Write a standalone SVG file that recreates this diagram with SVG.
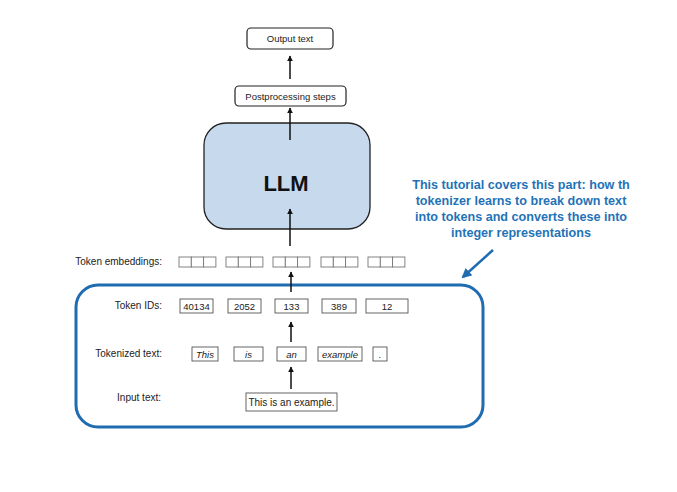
<svg xmlns="http://www.w3.org/2000/svg" width="677" height="492" viewBox="0 0 677 492">
<style>
  text { font-family: "Liberation Sans", Arial, sans-serif; fill: #222; }
  .lbl { font-size: 9.5px; }
  .lblr { font-size: 10px; text-anchor: end; }
  .c { text-anchor: middle; }
  .rbox { fill: #fff; stroke: #222; stroke-width: 1.2; }
  .cell { fill: #fff; stroke: #777; stroke-width: 0.9; }
  .tok { fill: #fff; stroke: #555; stroke-width: 0.9; }
  .it { font-style: italic; }
  .arrow { stroke: #111; stroke-width: 1.5; fill: none; marker-end: url(#ah); }
  .note { font-size: 12.6px; font-weight: bold; fill: #1f73b7; text-anchor: middle; }
</style>
<defs>
  <marker id="ah" viewBox="0 0 10 10" refX="9" refY="5" markerWidth="6" markerHeight="6" orient="auto" markerUnits="userSpaceOnUse">
    <path d="M0,0 L10,5 L0,10 z" fill="#111"/>
  </marker>
  <marker id="bh" viewBox="0 0 10 10" refX="8" refY="5" markerWidth="10" markerHeight="10" orient="auto" markerUnits="userSpaceOnUse">
    <path d="M0,0 L10,5 L0,10 z" fill="#1f6db0"/>
  </marker>
</defs>
<rect width="677" height="492" fill="#fff"/>

<g id="scope">
  <rect x="76" y="285" width="407" height="142" rx="22" fill="none" stroke="#1f6db0" stroke-width="3"/>
</g>

<g id="output">
  <rect class="rbox" x="247" y="28" width="86" height="21" rx="4"/>
  <text class="lbl c" x="290" y="42">Output text</text>
</g>
<g id="postprocessing">
  <rect class="rbox" x="235" y="86" width="111" height="20" rx="4"/>
  <text class="lbl c" x="290.5" y="99.5">Postprocessing steps</text>
</g>
<g id="llm">
  <rect x="204" y="123" width="166" height="106" rx="22" fill="#c6d9ed" stroke="#222" stroke-width="1.3"/>
  <text x="286" y="191" style="font-size:22px;font-weight:bold;text-anchor:middle;fill:#111">LLM</text>
</g>

<g id="embeddings">
  <text class="lblr" x="162" y="265">Token embeddings:</text>
  <g>
    <rect class="cell" x="179" y="257" width="12.3" height="10"/><rect class="cell" x="191.3" y="257" width="12.3" height="10"/><rect class="cell" x="203.6" y="257" width="12.3" height="10"/>
    <rect class="cell" x="226" y="257" width="12.3" height="10"/><rect class="cell" x="238.3" y="257" width="12.3" height="10"/><rect class="cell" x="250.6" y="257" width="12.3" height="10"/>
    <rect class="cell" x="273" y="257" width="12.3" height="10"/><rect class="cell" x="285.3" y="257" width="12.3" height="10"/><rect class="cell" x="297.6" y="257" width="12.3" height="10"/>
    <rect class="cell" x="321" y="257" width="12.3" height="10"/><rect class="cell" x="333.3" y="257" width="12.3" height="10"/><rect class="cell" x="345.6" y="257" width="12.3" height="10"/>
    <rect class="cell" x="368" y="257" width="12.3" height="10"/><rect class="cell" x="380.3" y="257" width="12.3" height="10"/><rect class="cell" x="392.6" y="257" width="12.3" height="10"/>
  </g>
</g>

<g id="token-ids">
  <text class="lblr" x="162" y="309">Token IDs:</text>
  <rect class="tok" x="180" y="299" width="33" height="14"/><text class="lbl c" x="196.5" y="309.5">40134</text>
  <rect class="tok" x="228" y="299" width="33" height="14"/><text class="lbl c" x="244.5" y="309.5">2052</text>
  <rect class="tok" x="275" y="299" width="33" height="14"/><text class="lbl c" x="291.5" y="309.5">133</text>
  <rect class="tok" x="322" y="299" width="34" height="14"/><text class="lbl c" x="339" y="309.5">389</text>
  <rect class="tok" x="366" y="299" width="42" height="14"/><text class="lbl c" x="387" y="309.5">12</text>
</g>

<g id="tokenized">
  <text class="lblr" x="162" y="357">Tokenized text:</text>
  <rect class="tok" x="192" y="347" width="26" height="14"/><text class="lbl c it" x="205" y="357.5">This</text>
  <rect class="tok" x="234" y="347" width="29" height="14"/><text class="lbl c it" x="248.5" y="357.5">is</text>
  <rect class="tok" x="277" y="347" width="29" height="14"/><text class="lbl c it" x="291.5" y="357.5">an</text>
  <rect class="tok" x="318" y="347" width="44" height="14"/><text class="lbl c it" x="340" y="357.5">example</text>
  <rect class="tok" x="373" y="347" width="14" height="14"/><text class="lbl c it" x="380" y="357.5">.</text>
</g>

<g id="input">
  <text class="lblr" x="161" y="401">Input text:</text>
  <rect class="tok" x="246" y="393" width="91" height="18"/>
  <text class="c" x="291.5" y="405.5" style="font-size:10px">This is an example.</text>
</g>

<g id="note">
  <text class="note" x="521" y="189">This tutorial covers this part: how th</text>
  <text class="note" x="521" y="205">tokenizer learns to break down text</text>
  <text class="note" x="521" y="221">into tokens and converts these into</text>
  <text class="note" x="521" y="237">integer representations</text>
</g>

<g id="connectors">
  <line class="arrow" x1="290" y1="79" x2="290" y2="56"/>
  <line class="arrow" x1="290" y1="140" x2="290" y2="108"/>
  <line class="arrow" x1="290" y1="246" x2="290" y2="209"/>
  <line class="arrow" x1="291" y1="292" x2="291" y2="272"/>
  <line class="arrow" x1="291" y1="342" x2="291" y2="322"/>
  <line class="arrow" x1="291" y1="389" x2="291" y2="367"/>
  <line x1="493" y1="250" x2="463" y2="277" stroke="#1f6db0" stroke-width="2.5" marker-end="url(#bh)"/>
</g>
</svg>
